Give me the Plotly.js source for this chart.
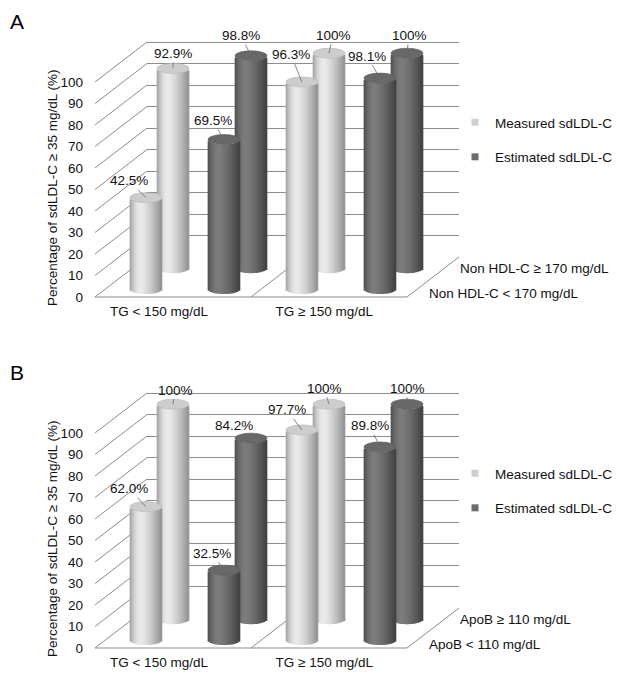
<!DOCTYPE html>
<html>
<head>
<meta charset="utf-8">
<script src="https://cdn.plot.ly/plotly-3.0.1.min.js"></script>
<style>html,body{margin:0;padding:0;background:#fff;}</style>
</head>
<body>
<div id="chart" style="width:639px;height:683px;"></div>
<script>
// ---------------- DATA ----------------
const categories = ['TG < 150 mg/dL', 'TG ≥ 150 mg/dL'];
const seriesNames = ['Measured sdLDL-C', 'Estimated sdLDL-C'];
const yTicks = [0, 10, 20, 30, 40, 50, 60, 70, 80, 90, 100];

const rowLabelsA = ['Non HDL-C < 170 mg/dL', 'Non HDL-C ≥ 170 mg/dL'];
const measuredA_low  = [42.5, 96.3];
const estimatedA_low = [69.5, 98.1];
const measuredA_high  = [92.9, 100];
const estimatedA_high = [98.8, 100];

const rowLabelsB = ['ApoB < 110 mg/dL', 'ApoB ≥ 110 mg/dL'];
const measuredB_low  = [62.0, 97.7];
const estimatedB_low = [32.5, 89.8];
const measuredB_high  = [100, 100];
const estimatedB_high = [84.2, 100];

const yTitle = 'Percentage of sdLDL-C ≥ 35 mg/dL (%)';

// ---------------- GEOMETRY / STYLE ----------------
const W = 639, H = 683;
const FONT = 'Arial, "Liberation Sans", sans-serif';
const TXT = '#111111';
const FX0 = 95, FX1 = 407, S = 2.15, DX = 52, DY = 40;
const rowDepth = [0.2, 0.72];            // front row, back row
const barCenter = [-0.24, 0.26];         // measured, estimated (category units)
const barW = 0.205;
const capHalfPx = 5;
const NS = 16;
const labelShift = [-0.09, -0.03];

const panels = [
  {letter: 'A', oy: 0, rows: rowLabelsA,
   vals: [[measuredA_low, estimatedA_low], [measuredA_high, estimatedA_high]],
   lab: [[[[-17,-17],[-11,-27]], [[-11,-19],[-13,-22]]],
         [[[0,-15],[4,-18]],     [[-10,-20],[2,-18]]]],
   legY: 140},
  {letter: 'B', oy: 351, rows: rowLabelsB,
   vals: [[measuredB_low, estimatedB_low], [measuredB_high, estimatedB_high]],
   lab: [[[[-17,-18],[-15,-20]], [[-12,-17],[-10,-21]]],
         [[[2,-14],[-5,-16]],    [[-17,-13],[0,-16]]]],
   legY: 491}
];

const X = px => px / W;
const Y = py => 1 - py / H;
function xdom(t) { return [X(FX0 + DX * t), X(FX1 + DX * t)]; }
function ydom(fy, t, r0, r1) { return [Y(fy - DY * t - S * r0), Y(fy - DY * t - S * r1)]; }

function shade(u, light) {
  const p = -0.3;
  const hi = light ? 234 : 124, loL = light ? 156 : 76, loR = light ? 144 : 64;
  let v;
  if (u < p) { const t = (p - u) / (1 + p); v = hi - (hi - loL) * t * t; }
  else { const t = (u - p) / (1 - p); v = hi - (hi - loR) * Math.pow(t, 1.4); }
  v = Math.round(v);
  return 'rgb(' + v + ',' + v + ',' + v + ')';
}

const data = [];
const shapes = [];
const annotations = [];
const layout = {
  width: W, height: H, autosize: false,
  margin: {l: 0, r: 0, t: 0, b: 0},
  paper_bgcolor: '#ffffff', plot_bgcolor: 'rgba(0,0,0,0)',
  barmode: 'overlay',
  font: {family: FONT, size: 13.5, color: TXT},
  shapes: shapes, annotations: annotations
};

const hidden = {visible: false, fixedrange: true};

panels.forEach((P, pi) => {
  const k = pi * 4;
  const fy = 297 + P.oy;
  const ids = [1, 2, 3, 4].map(n => k + n);  // wall, back, front, frame
  const xn = n => n === 1 ? 'xaxis' : 'xaxis' + n;
  const yn = n => n === 1 ? 'yaxis' : 'yaxis' + n;
  const xr = n => n === 1 ? 'x' : 'x' + n;
  const yr = n => n === 1 ? 'y' : 'y' + n;
  const [nW, nB, nF, nP] = ids;

  // wall (back plane) with its gridlines
  layout[xn(nW)] = {domain: xdom(1), range: [-0.5, 1.5], anchor: yr(nW), showgrid: false,
    showticklabels: false, ticks: '', showline: false, zeroline: false, fixedrange: true};
  layout[yn(nW)] = {domain: ydom(fy, 1, 0, 110), range: [0, 110], anchor: xr(nW),
    tickmode: 'array', tickvals: yTicks, showticklabels: false, ticks: '', showline: false, zeroline: false,
    showgrid: true, gridcolor: '#8c8c8c', gridwidth: 1, fixedrange: true};
  data.push({type: 'scatter', mode: 'markers', x: [0], y: [-50], xaxis: xr(nW), yaxis: yr(nW),
    marker: {opacity: 0}, showlegend: false, hoverinfo: 'skip', cliponaxis: true});
  // rows
  [[nF, 0], [nB, 1]].forEach(([n, r]) => {
    layout[xn(n)] = Object.assign({}, hidden, {domain: xdom(rowDepth[r]), range: [-0.5, 1.5], anchor: yr(n)});
    layout[yn(n)] = Object.assign({}, hidden, {domain: ydom(fy, rowDepth[r], -5, 110), range: [-5, 110], anchor: xr(n)});
  });
  // frame (front plane) with tick labels
  layout[xn(nP)] = {domain: xdom(0), range: [-0.5, 1.5], anchor: yr(nP),
    tickvals: categories.map((c, i) => i + labelShift[i]), ticktext: categories,
    ticks: '', showline: false, showgrid: false, zeroline: false, ticklabelstandoff: 4,
    tickfont: {size: 13.5, color: TXT}, fixedrange: true};
  layout[yn(nP)] = {domain: ydom(fy, 0, 0, 110), range: [0, 110], anchor: xr(nP),
    tickvals: yTicks, ticktext: yTicks.map(String), ticks: '', showline: false, showgrid: false,
    zeroline: false, ticklabelstandoff: 11, tickfont: {size: 13.5, color: TXT}, fixedrange: true};

  const hU = capHalfPx / S;
  // bars: back row first then front row
  [1, 0].forEach(r => {
    const n = r === 1 ? nB : nF;
    [0, 1].forEach(s => {
      const light = s === 0;
      const vals = P.vals[r][s];
      for (let i = 0; i < NS; i++) {
        const u = -1 + (2 * i + 1) / NS;
        const ws = barW / NS * 1.35;
        data.push({
          type: 'bar', x: [0, 1], y: vals,
          base: -hU * Math.sqrt(Math.max(0, 1 - u * u)),
          width: ws, offset: barCenter[s] + u * barW / 2 - ws / 2,
          xaxis: xr(n), yaxis: yr(n),
          marker: {color: shade(u, light), line: {width: 0}},
          hoverinfo: 'skip', showlegend: false, cliponaxis: false
        });
      }
      vals.forEach((v, c) => {
        const cx = c + barCenter[s];
        shapes.push({type: 'circle', xref: xr(n), yref: yr(n), layer: 'above',
          x0: cx - barW / 2, x1: cx + barW / 2, y0: v - hU, y1: v + hU,
          fillcolor: light ? '#cdcdcd' : '#686868',
          line: {color: light ? '#b4b4b4' : '#5a5a5a', width: 0.6}});
        const off = P.lab[r][s][c];
        annotations.push({xref: xr(n), yref: yr(n), x: cx, y: v,
          text: (v === 100 ? '100' : v.toFixed(1)) + '%',
          showarrow: true, arrowhead: 0, arrowwidth: 0.8, arrowcolor: '#6a6a6a',
          ax: off[0], ay: off[1], standoff: 0, startstandoff: 0,
          font: {size: 13.5, color: TXT}});
      });
    });
  });

  // floor + left wall diagonals (decoration, paper coords)
  const gl = {color: '#8c8c8c', width: 1};
  yTicks.forEach(v => {
    shapes.push({type: 'line', xref: 'paper', yref: 'paper', layer: 'below',
      x0: X(FX0), y0: Y(fy - S * v), x1: X(FX0 + DX), y1: Y(fy - DY - S * v), line: gl});
  });
  shapes.push({type: 'line', xref: 'paper', yref: 'paper', layer: 'below',
    x0: X(FX0), y0: Y(fy), x1: X(FX1), y1: Y(fy), line: gl});
  shapes.push({type: 'line', xref: 'paper', yref: 'paper', layer: 'below',
    x0: X(FX1), y0: Y(fy), x1: X(FX1 + DX), y1: Y(fy - DY), line: gl});
  const mid = (FX0 + FX1) / 2;
  shapes.push({type: 'line', xref: 'paper', yref: 'paper', layer: 'below',
    x0: X(mid), y0: Y(fy), x1: X(mid + DX), y1: Y(fy - DY), line: gl});

  // row (depth) labels
  annotations.push({xref: 'paper', yref: 'paper', x: X(458), y: Y(fy - 29), xanchor: 'left', yanchor: 'middle',
    text: P.rows[1], showarrow: false, font: {size: 13.5, color: TXT}});
  annotations.push({xref: 'paper', yref: 'paper', x: X(427), y: Y(fy - 4), xanchor: 'left', yanchor: 'middle',
    text: P.rows[0], showarrow: false, font: {size: 13.5, color: TXT}});
  // y title
  annotations.push({xref: 'paper', yref: 'paper', x: X(52), y: Y(fy - 109), xanchor: 'center', yanchor: 'middle',
    text: yTitle, textangle: -90, showarrow: false, font: {size: 13.5, color: TXT}});
  // panel letter
  annotations.push({xref: 'paper', yref: 'paper', x: X(17), y: Y(21 + P.oy), xanchor: 'center', yanchor: 'middle',
    text: P.letter, showarrow: false, font: {size: 21, color: '#000'}});

  // legend
  const legName = pi === 0 ? 'legend' : 'legend2';
  seriesNames.forEach((nm, s) => {
    data.push({type: 'scatter', mode: 'markers', x: [null], y: [null], name: nm,
      xaxis: xr(nP), yaxis: yr(nP), legend: legName, legendgroup: P.letter + s,
      marker: {symbol: 'square', size: 7, color: s === 0 ? '#cfcfcf' : '#6c6c6c'},
      hoverinfo: 'skip'});
  });
  layout[legName] = {x: X(455), xanchor: 'left', y: Y(P.legY), yanchor: 'middle',
    bgcolor: 'rgba(0,0,0,0)', borderwidth: 0, traceorder: 'grouped', tracegroupgap: 14,
    font: {size: 13.5, color: TXT}};
});
layout.showlegend = true;

Plotly.newPlot('chart', data, layout, {displayModeBar: false, staticPlot: true});
</script>
</body>
</html>
